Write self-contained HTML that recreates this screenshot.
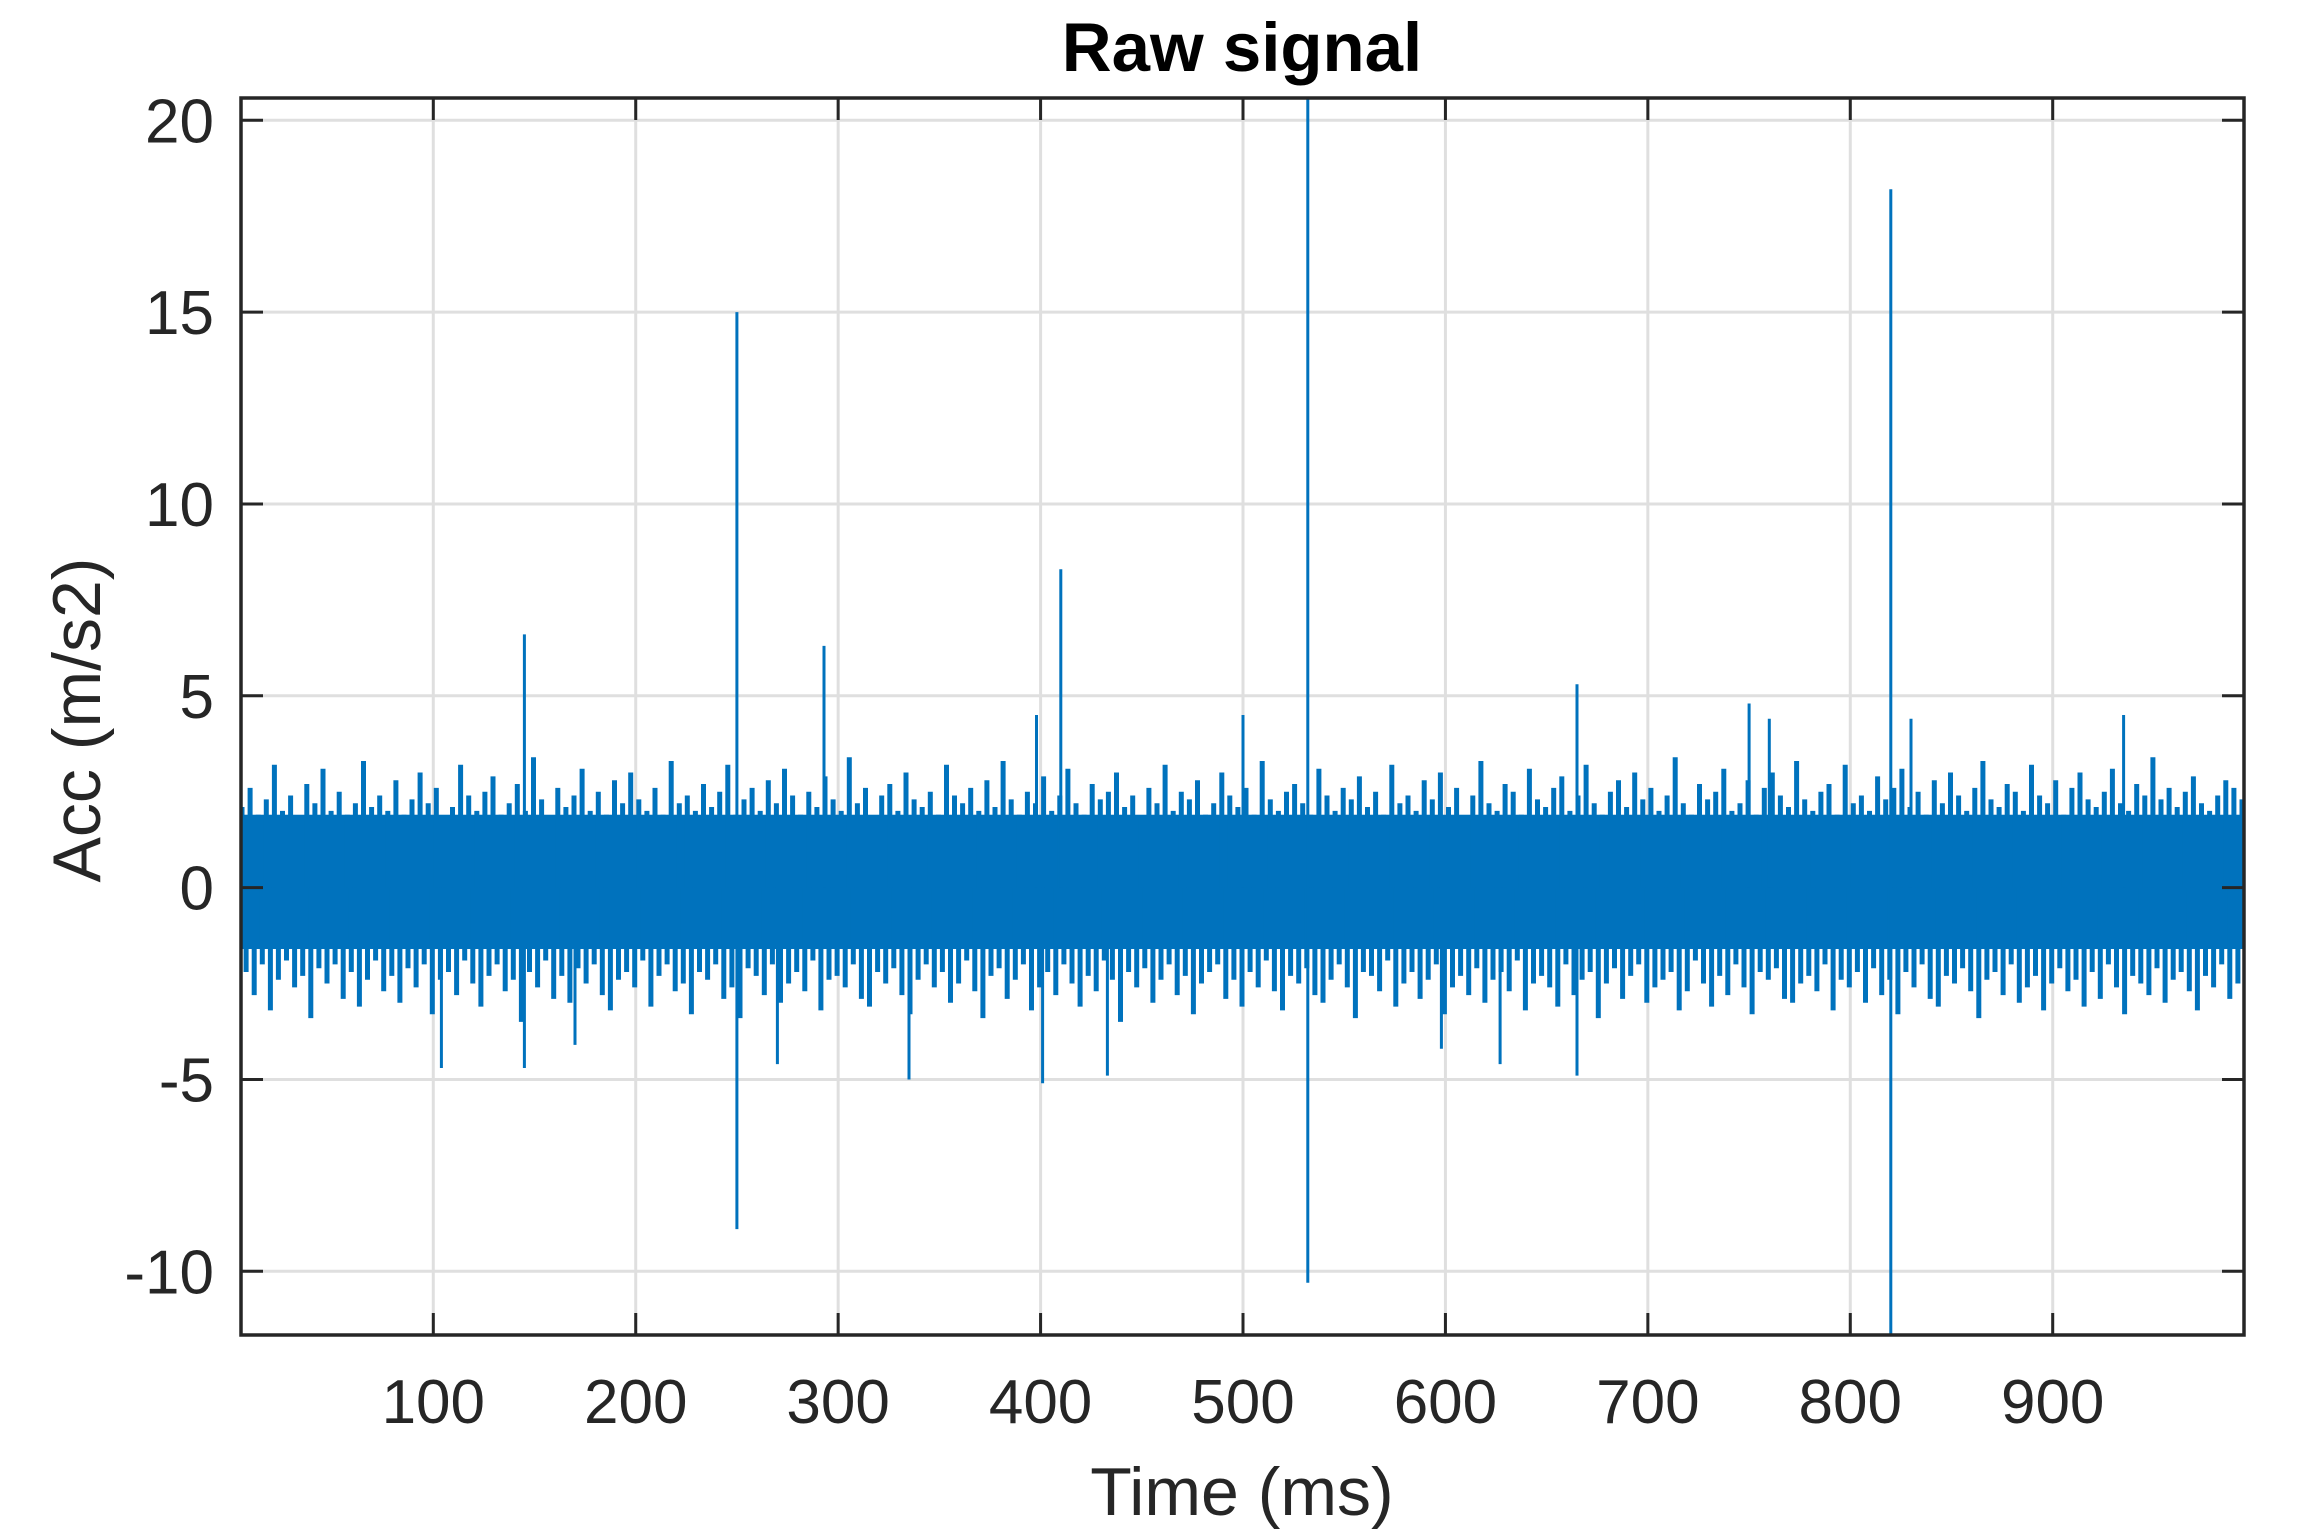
<!DOCTYPE html>
<html><head><meta charset="utf-8"><style>
html,body{margin:0;padding:0;background:#fff;}
svg{display:block;font-family:"Liberation Sans",Arial,sans-serif;}
</style></head><body>
<svg id="chart" width="2302" height="1538" viewBox="0 0 2302 1538" xmlns="http://www.w3.org/2000/svg">
<rect x="0" y="0" width="2302" height="1538" fill="#fff"/>
<g id="grid"></g>
<g id="series"></g>
<g id="axes"></g>
<text x="1242" y="71" text-anchor="middle" font-size="69" font-weight="bold" fill="#000">Raw signal</text>
<text x="1242" y="1515" text-anchor="middle" font-size="68" fill="#262626">Time (ms)</text>
<text transform="translate(100,720) rotate(-90)" x="0" y="0" text-anchor="middle" font-size="68" fill="#262626">Acc (m/s2)</text>
</svg>
<script>
const xTicks = [100,200,300,400,500,600,700,800,900];
const yTicks = [-10,-5,0,5,10,15,20];
const xDomain = [5, 994.5];
const yDomain = [-11.66, 20.58];
const coreBand = [-1.6, 1.9];
const upperHairs = [
2.1,2.6,1.9,2.3,3.2,2.0,2.4,1.8,2.7,2.2,3.1,2.0,2.5,1.9,2.2,3.3,2.1,2.4,2.0,2.8,
1.9,2.3,3.0,2.2,2.6,1.8,2.1,3.2,2.4,2.0,2.5,2.9,1.9,2.2,2.7,2.0,3.4,2.3,1.8,2.6,
2.1,2.4,3.1,2.0,2.5,1.9,2.8,2.2,3.0,2.3,2.0,2.6,1.9,3.3,2.2,2.4,2.0,2.7,2.1,2.5,
3.2,1.9,2.3,2.6,2.0,2.8,2.2,3.1,2.4,1.9,2.5,2.1,2.9,2.3,2.0,3.4,2.2,2.6,1.8,2.4,
2.7,2.0,3.0,2.3,2.1,2.5,1.9,3.2,2.4,2.2,2.6,2.0,2.8,2.1,3.3,2.3,1.9,2.5,2.2,2.9,
2.0,2.4,3.1,2.2,1.9,2.7,2.3,2.5,3.0,2.1,2.4,1.8,2.6,2.2,3.2,2.0,2.5,2.3,2.8,1.9,
2.2,3.0,2.4,2.1,2.6,1.9,3.3,2.3,2.0,2.5,2.7,2.2,1.9,3.1,2.4,2.0,2.6,2.3,2.9,2.1,
2.5,1.9,3.2,2.2,2.4,2.0,2.8,2.3,3.0,2.1,2.6,1.8,2.4,3.3,2.2,2.0,2.7,2.5,1.9,3.1,
2.3,2.1,2.6,2.9,2.0,2.4,3.2,2.2,1.9,2.5,2.8,2.1,3.0,2.3,2.6,2.0,2.4,3.4,2.2,1.9,
2.7,2.3,2.5,3.1,2.0,2.2,2.8,1.9,2.6,3.0,2.4,2.1,3.3,2.3,2.0,2.5,2.7,1.9,3.2,2.2,
2.4,2.0,2.9,2.3,2.6,3.1,2.1,2.5,1.9,2.8,2.2,3.0,2.4,2.0,2.6,3.3,2.3,2.1,2.7,2.5,
2.0,3.2,2.4,2.2,2.8,1.9,2.6,3.0,2.3,2.1,2.5,3.1,2.2,2.0,2.7,2.4,3.4,2.3,2.6,2.1,
2.5,2.9,2.2,2.0,2.4,2.8,2.6,2.3,3.0,2.2
];
const lowerHairs = [
-2.2,-2.8,-2.0,-3.2,-2.4,-1.9,-2.6,-2.3,-3.4,-2.1,-2.5,-2.0,-2.9,-2.2,-3.1,-2.4,-1.9,-2.7,-2.3,-3.0,
-2.1,-2.6,-2.0,-3.3,-2.4,-2.2,-2.8,-1.9,-2.5,-3.1,-2.3,-2.0,-2.7,-2.4,-3.5,-2.2,-2.6,-1.9,-2.9,-2.3,
-3.0,-2.1,-2.5,-2.0,-2.8,-3.2,-2.4,-2.2,-2.6,-1.9,-3.1,-2.3,-2.0,-2.7,-2.5,-3.3,-2.2,-2.4,-2.0,-2.9,
-2.6,-3.4,-2.1,-2.3,-2.8,-2.0,-3.0,-2.5,-2.2,-2.7,-1.9,-3.2,-2.4,-2.3,-2.6,-2.0,-2.9,-3.1,-2.2,-2.5,
-2.1,-2.8,-3.3,-2.4,-2.0,-2.6,-2.2,-3.0,-2.5,-1.9,-2.7,-3.4,-2.3,-2.1,-2.9,-2.4,-2.0,-3.2,-2.6,-2.2,
-2.8,-2.0,-2.5,-3.1,-2.3,-2.7,-1.9,-2.4,-3.5,-2.2,-2.6,-2.1,-3.0,-2.4,-2.0,-2.8,-2.3,-3.3,-2.5,-2.2,
-2.0,-2.9,-2.4,-3.1,-2.2,-2.6,-1.9,-2.7,-3.2,-2.3,-2.5,-2.1,-2.8,-3.0,-2.4,-2.0,-2.6,-3.4,-2.2,-2.3,
-2.7,-1.9,-3.1,-2.5,-2.2,-2.9,-2.4,-2.0,-3.3,-2.6,-2.3,-2.8,-2.1,-3.0,-2.4,-2.2,-2.7,-1.9,-3.2,-2.5,
-2.3,-2.6,-3.1,-2.0,-2.8,-2.4,-2.2,-3.4,-2.5,-2.1,-2.9,-2.3,-2.0,-3.0,-2.6,-2.4,-2.2,-3.2,-2.7,-1.9,
-2.5,-3.1,-2.3,-2.8,-2.0,-2.6,-3.3,-2.2,-2.4,-2.1,-2.9,-3.0,-2.5,-2.3,-2.7,-2.0,-3.2,-2.4,-2.6,-2.2,
-3.0,-2.1,-2.8,-2.4,-3.3,-2.2,-2.6,-2.0,-2.9,-3.1,-2.3,-2.5,-2.1,-2.7,-3.4,-2.4,-2.2,-2.8,-2.0,-3.0,
-2.6,-2.3,-3.2,-2.5,-2.1,-2.7,-2.4,-3.1,-2.2,-2.9,-2.0,-2.6,-3.3,-2.3,-2.5,-2.8,-2.1,-3.0,-2.4,-2.2,
-2.7,-3.2,-2.3,-2.6,-2.0,-2.9,-2.5,-3.1,-2.4,-3.3
];
const hairStart = 5.5;
const hairStep = 4;
const spikeTimes = [145,145,104,170,250,250,270,293,335,398,401,410,433,500,532,532,598,627,665,665,750,760,820,820,830,935];
const spikeValues = [6.6,-4.7,-4.7,-4.1,15.0,-8.9,-4.6,6.3,-5.0,4.5,-5.1,8.3,-4.9,4.5,20.58,-10.3,-4.2,-4.6,5.3,-4.9,4.8,4.4,18.2,-11.66,4.4,4.5];

const L=241,R=2244,T=98,B=1335;
function xs(v){return L+(v-xDomain[0])/(xDomain[1]-xDomain[0])*(R-L);}
function ys(v){return B-(v-yDomain[0])/(yDomain[1]-yDomain[0])*(B-T);}
const NS='http://www.w3.org/2000/svg';
function mk(tag,attrs,parent){const e=document.createElementNS(NS,tag);for(const k in attrs)e.setAttribute(k,attrs[k]);parent.appendChild(e);return e;}
const grid=document.getElementById('grid'),series=document.getElementById('series'),axes=document.getElementById('axes');
xTicks.forEach(t=>{const l=mk('line',{x1:xs(t),x2:xs(t),y1:T,y2:B,stroke:'#dfdfdf','stroke-width':3},grid);

});
yTicks.forEach(t=>{const l=mk('line',{x1:L,x2:R,y1:ys(t),y2:ys(t),stroke:'#dfdfdf','stroke-width':3},grid);

});
const core=mk('rect',{x:L,y:ys(coreBand[1]),width:R-L,height:ys(coreBand[0])-ys(coreBand[1]),fill:'#0072bd'},series);


let d='';
upperHairs.forEach((v,i)=>{const x=xs(hairStart+i*hairStep);if(x<=R-2)d+='M'+x.toFixed(1)+' '+ys(0).toFixed(1)+'V'+ys(v).toFixed(1);});
lowerHairs.forEach((v,i)=>{const x=xs(hairStart+2+i*hairStep);if(x<=R-2)d+='M'+x.toFixed(1)+' '+ys(0).toFixed(1)+'V'+ys(v).toFixed(1);});
const hairs=mk('path',{d:d,stroke:'#0072bd','stroke-width':5,fill:'none'},series);


let d2='';
spikeTimes.forEach((t,i)=>{d2+='M'+xs(t).toFixed(1)+' '+ys(0).toFixed(1)+'V'+ys(spikeValues[i]).toFixed(1);});
const sp=mk('path',{d:d2,stroke:'#0072bd','stroke-width':3,fill:'none'},series);


const box=mk('rect',{x:L,y:T,width:R-L,height:B-T,fill:'none',stroke:'#262626','stroke-width':3.5},axes);


xTicks.forEach(t=>{
 const a=mk('path',{d:`M${xs(t)} ${B}V${B-22}M${xs(t)} ${T}V${T+22}`,stroke:'#262626','stroke-width':3},axes);
 
 
 const tx=mk('text',{x:xs(t),y:1423,'text-anchor':'middle','font-size':62,fill:'#262626'},axes);
 
 
 tx.textContent=t;
});
yTicks.forEach(t=>{
 const a=mk('path',{d:`M${L} ${ys(t)}H${L+22}M${R} ${ys(t)}H${R-22}`,stroke:'#262626','stroke-width':3},axes);
 
 
 const tx=mk('text',{x:214,y:ys(t)+22,'text-anchor':'end','font-size':62,fill:'#262626'},axes);
 
 
 tx.textContent=t;
});
</script>
</body></html>
